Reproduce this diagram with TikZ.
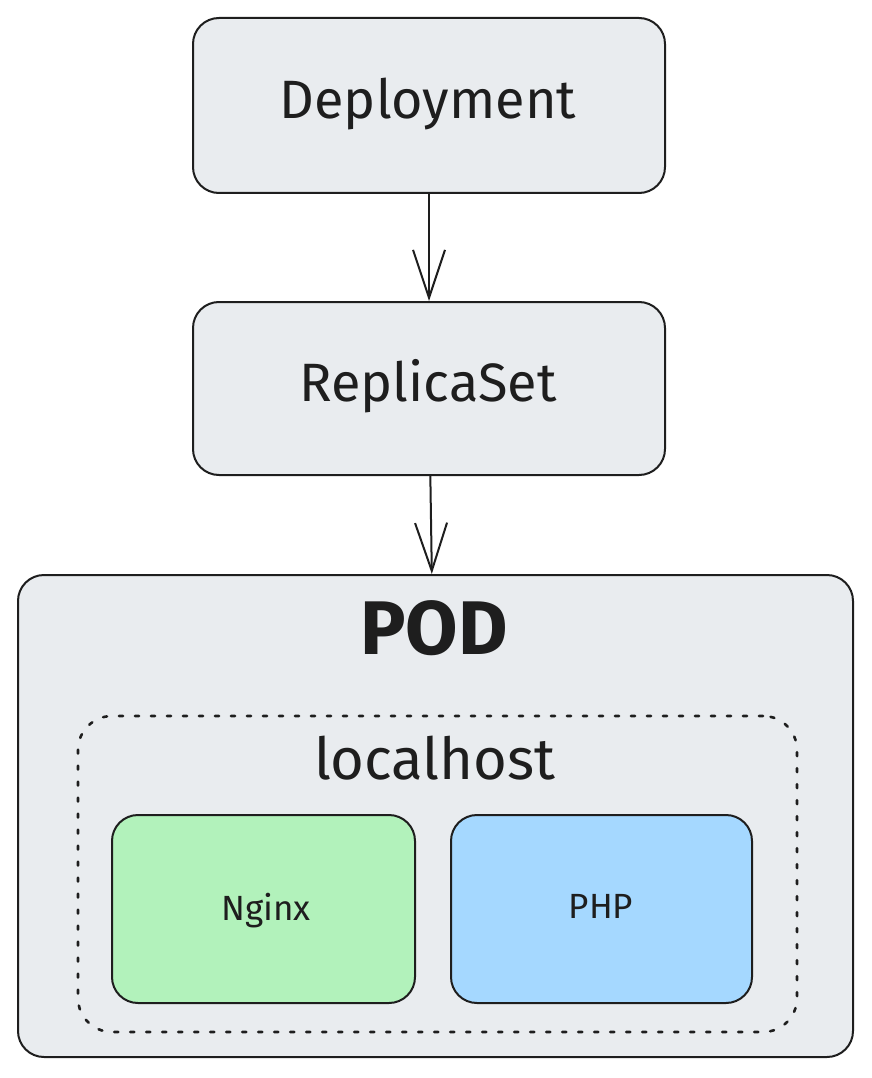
\documentclass[tikz,border=0pt]{standalone}
\usepackage{fontspec}
\setmainfont{Fira Sans}
\usetikzlibrary{arrows.meta}
\definecolor{ink}{HTML}{1E1E1E}
\definecolor{boxgray}{HTML}{E9ECEF}
\definecolor{boxgreen}{HTML}{B2F2BB}
\definecolor{boxblue}{HTML}{A5D8FF}
\tikzset{
  box/.style={draw=ink, line width=2pt, rounded corners=26pt, fill=boxgray, inner sep=0pt},
  hostbox/.style={draw=ink, line width=2.6pt, line cap=round, dash pattern=on 4pt off 12pt, rounded corners=34pt, inner sep=0pt},
  flow/.style={draw=ink, line width=2pt, -{Straight Barb[length=48pt,width=32pt,line width=2pt]}},
}
\begin{document}
\begin{tikzpicture}[x=1pt,y=-1pt]
\useasboundingbox (0,0) rectangle (871,1078);
\node[box, minimum width=472pt, minimum height=175pt] (deploy) at (429,105.5){};
\node[box, minimum width=472pt, minimum height=173pt] (rs) at (429,388.5){};
\node[box, minimum width=835pt, minimum height=482pt] (pod) at (435.5,816){};
\node[hostbox, minimum width=719pt, minimum height=316pt] (host) at (437.5,874){};
\node[box, fill=boxgreen, minimum width=303pt, minimum height=188pt] (nginx) at (263.5,909){};
\node[box, fill=boxblue, minimum width=301pt, minimum height=188pt] (php) at (601.5,909){};
\node[text=ink, font=\fontsize{54}{60}\selectfont] (tdeploy) at (428,104){Deployment};
\node[text=ink, font=\fontsize{54}{60}\selectfont] (trs) at (428,386){ReplicaSet};
\node[text=ink, font=\fontsize{76}{82}\selectfont\bfseries] (tpod) at (434,628){POD};
\node[text=ink, font=\fontsize{58}{64}\selectfont] (thost) at (435,758){localhost};
\node[text=ink, font=\fontsize{35}{40}\selectfont] (tnginx) at (266,911){Nginx};
\node[text=ink, font=\fontsize{35}{40}\selectfont] (tphp) at (601,906){PHP};
\draw[flow](deploy) -- (rs);
\draw[flow](rs) -- (pod);
\end{tikzpicture}
\end{document}
